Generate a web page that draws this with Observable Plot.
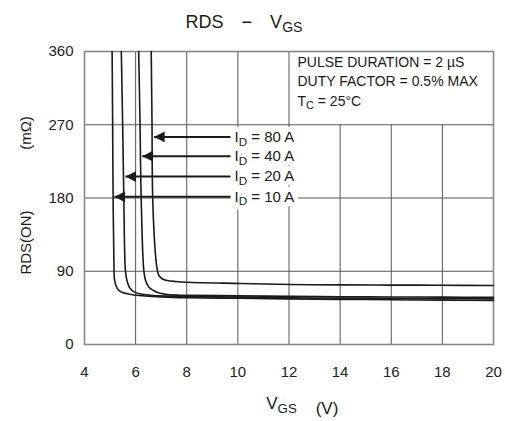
<!DOCTYPE html>
<html><head><meta charset="utf-8">
<script src="https://cdn.jsdelivr.net/npm/d3@7"></script>
<script src="https://cdn.jsdelivr.net/npm/@observablehq/plot@0.6"></script>
<style>
body{margin:0;background:#fff;}
#chart svg{font-family:"Liberation Sans",Arial,Helvetica,sans-serif;background:#fff;}
</style></head><body><div id="chart"></div>
<script>
// ---- axis ticks / grid ----
const xTicks = [4, 6, 8, 10, 12, 14, 16, 18, 20];
const yTicks = [0, 90, 180, 270, 360];
const fullGridX = [6, 8, 10, 12];
const shortGridX = [14, 16, 18];
const gridY = [90, 180, 270];

// ---- curves: VGS (V) vs RDS(ON) (mOhm) ----
const vgs10 = [5.08, 5.10, 5.12, 5.15, 5.17, 5.23, 5.33, 5.49, 5.72, 6.0, 7.0, 8, 10, 12, 14, 16, 18, 20];
const rds10 = [360, 275, 177, 103, 81, 72.5, 67, 63.9, 62, 60.5, 58.5, 57.5, 56.8, 56, 55.5, 55, 54.5, 54];
const vgs20 = [5.44, 5.49, 5.54, 5.60, 5.66, 5.76, 5.92, 6.19, 6.58, 7.17, 8, 10, 12, 14, 16, 18, 20];
const rds20 = [360, 275, 177, 91, 78.6, 70, 65, 62, 60.5, 59.5, 59, 58.2, 57.5, 57, 56.6, 56.3, 56];
const vgs40 = [6.12, 6.17, 6.22, 6.32, 6.39, 6.52, 6.70, 6.86, 7.17, 7.76, 8, 10, 12, 14, 16, 18, 20];
const rds40 = [360, 275, 177, 91, 78.6, 70.4, 66.3, 63.9, 61.6, 60.6, 60.4, 59.8, 59.2, 58.7, 58.4, 58.2, 58];
const vgs80 = [6.61, 6.64, 6.67, 6.78, 6.84, 6.91, 7.05, 7.24, 7.56, 8.02, 10.1, 12.06, 14, 16, 18, 20];
const rds80 = [360, 275, 177, 109, 93, 84.8, 80.5, 78.6, 77.4, 76.5, 75, 73.7, 73.2, 73, 72.8, 72.5];

// ---- annotations ----
const arrowLabels = ["I_{D} = 80 A", "I_{D} = 40 A", "I_{D} = 20 A", "I_{D} = 10 A"];
const arrowY = [255, 231.4, 206.4, 181.5];
const arrowTip = [6.72, 6.26, 5.6, 5.17];
const arrowTail = [9.71, 9.71, 9.71, 9.71];
const labelX = [9.87, 9.87, 9.87, 9.87];
const notes = ["PULSE DURATION = 2 µS", "DUTY FACTOR = 0.5% MAX", "T_{C} = 25°C"];
const notesX = [12.33, 12.33, 12.33];
const notesY = [340.7, 317.9, 293.6];

const series = [
  {id: "10", v: vgs10, r: rds10},
  {id: "20", v: vgs20, r: rds20},
  {id: "40", v: vgs40, r: rds40},
  {id: "80", v: vgs80, r: rds80}
];
const curveData = series.flatMap(s => s.v.map((v, i) => ({id: s.id, v, r: s.r[i]})));
const arrows = arrowLabels.map((label, i) => ({label, y: arrowY[i], tip: arrowTip[i], tail: arrowTail[i], lx: labelX[i]}));
const noteData = notes.map((t, i) => ({t, x: notesX[i], y: notesY[i]}));

// filled left-pointing arrowhead, tip at the anchor point
const arrowHead = {
  draw(ctx, size) {
    const s = Math.sqrt(size);
    const L = s * 1.3, h = s * 0.66;
    ctx.moveTo(0, 0);
    ctx.lineTo(L, -h);
    ctx.lineTo(L, h);
    ctx.closePath();
  }
};

const ink = "#1a1a1a";
const labelOpts = {x: "lx", y: "y", text: "label", textAnchor: "start", lineAnchor: "middle", fontSize: 15};
const plot = Plot.plot({
  width: 505,
  height: 421,
  marginLeft: 84,
  marginRight: 12,
  marginTop: 51,
  marginBottom: 77,
  x: {domain: [4, 20], label: null},
  y: {domain: [0, 360], label: null},
  marks: [
    Plot.ruleX(fullGridX, {stroke: "#555", strokeWidth: 1}),
    Plot.ruleX(shortGridX, {y1: yTicks[0], y2: yTicks[3], stroke: "#555", strokeWidth: 1}),
    Plot.ruleY(gridY, {stroke: "#555", strokeWidth: 1}),
    Plot.frame({stroke: "#888", strokeWidth: 1.6}),
    Plot.axisX({ticks: xTicks, tickSize: 0, tickPadding: 22, fontSize: 15, label: null, fill: "#222"}),
    Plot.axisY({ticks: yTicks, tickSize: 0, tickPadding: 11, fontSize: 15, label: null, fill: "#222"}),
    // white halo under the current labels (hides grid behind them)
    Plot.text(arrows, {...labelOpts, fill: "white", stroke: "white", strokeWidth: 10}),
    Plot.text(arrows, {...labelOpts, fill: ink}),
    Plot.text(noteData, {x: "x", y: "y", text: "t", textAnchor: "start", lineAnchor: "bottom",
      fontSize: 14, fill: ink}),
    Plot.link(arrows, {x1: "tail", x2: "tip", y1: "y", y2: "y", stroke: ink, strokeWidth: 2}),
    Plot.dot(arrows, {x: "tip", y: "y", symbol: arrowHead, r: 4.6, fill: ink, stroke: "none"}),
    Plot.line(curveData, {x: "v", y: "r", z: "id", curve: "catmull-rom", stroke: ink, strokeWidth: 1.6}),
    Plot.text(["RDS\u2003\u2212\u2003V_{GS}"], {frameAnchor: "top", dx: -45, dy: -24, lineAnchor: "bottom", textAnchor: "middle", fontSize: 18, fill: ink}),
    Plot.text(["V_{GS}"], {frameAnchor: "bottom", dx: -7.5, dy: 64, lineAnchor: "bottom", textAnchor: "middle", fontSize: 17, fill: ink}),
    Plot.text(["(V)"], {frameAnchor: "bottom", dx: 38, dy: 69.5, lineAnchor: "bottom", textAnchor: "middle", fontSize: 17, fill: ink}),
    Plot.text(["RDS(ON)"], {frameAnchor: "left", dx: -58, dy: 44.5, rotate: -90, lineAnchor: "middle", textAnchor: "middle", fontSize: 15, fill: ink}),
    Plot.text(["(m\u03a9)"], {frameAnchor: "left", dx: -58, dy: -65, rotate: -90, lineAnchor: "middle", textAnchor: "middle", fontSize: 15, fill: ink})
  ]
});

// turn "_{..}" markup into subscript tspans
d3.select(plot).selectAll("text").each(function() {
  const t = this.textContent;
  if (!t.includes("_{")) return;
  const parts = t.split(/_\{([^}]*)\}/);
  const sel = d3.select(this);
  sel.text(null);
  let lowered = false;
  parts.forEach((p, i) => {
    if (i % 2 === 1) {
      sel.append("tspan").attr("font-size", "78%").attr("dy", "0.32em").text(p);
      lowered = true;
    } else {
      if (p === "") return;
      const ts = sel.append("tspan").text(p);
      if (lowered) { ts.attr("dy", "-0.25em"); lowered = false; }
    }
  });
});

document.getElementById("chart").appendChild(plot);
</script>
</body></html>
